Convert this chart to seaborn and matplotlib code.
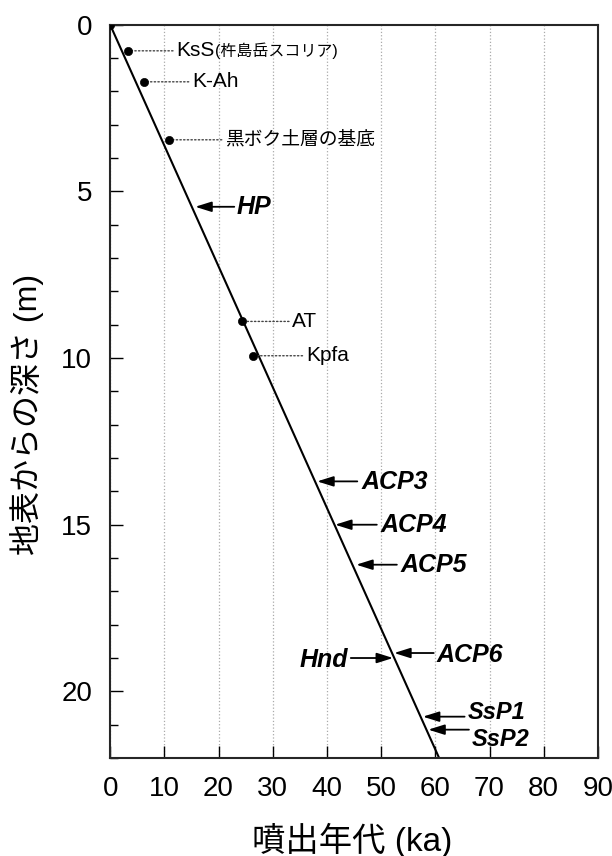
import matplotlib
matplotlib.use("Agg")
import matplotlib.pyplot as plt
from matplotlib.ticker import MultipleLocator
import pandas as pd
import seaborn as sns

# 年代-深度の直線
line_age = [0, 60.7]
line_depth = [0, 22]

# テフラ（点）
dot_names = ["KsS", "K-Ah", "黒ボク土層の基底", "AT", "Kpfa"]
dot_age = [3.3, 6.3, 10.9, 24.4, 26.4]
dot_depth = [0.78, 1.71, 3.45, 8.9, 9.93]
dot_text_x = [12.2, 15.1, 21.2, 33.6, 36.1]

# 矢印ラベル
arr_names = ["HP", "ACP3", "ACP4", "ACP5", "ACP6", "Hnd", "SsP1", "SsP2"]
arr_age = [15.7, 38.2, 41.5, 45.4, 52.4, 52.2, 57.7, 58.7]
arr_depth = [5.46, 13.7, 15.0, 16.2, 18.85, 19.0, 20.76, 21.15]
arr_tail_x = [22.9, 45.6, 49.2, 52.9, 59.7, 44.4, 65.4, 66.2]
arr_text_x = [23.4, 46.3, 49.8, 53.5, 60.3, 43.9, 66.0, 66.8]
arr_text_y = [5.46, 13.72, 15.0, 16.22, 18.9, 19.05, 20.64, 21.44]
arr_size = [18, 18, 18, 18, 18, 18, 17, 17]

sns.set_style("ticks")
plt.rcParams["font.family"] = ["Liberation Sans", "Noto Sans CJK JP", "DejaVu Sans"]
plt.rcParams["text.color"] = "black"
plt.rcParams["axes.labelcolor"] = "black"
plt.rcParams["xtick.color"] = "black"
plt.rcParams["ytick.color"] = "black"

fig = plt.figure(figsize=(6.12, 8.56), dpi=100)
ax = fig.add_axes([0.18, 0.1145, 0.797, 0.8565])

df_line = pd.DataFrame({"age": line_age, "depth": line_depth})
sns.lineplot(data=df_line, x="age", y="depth", color="black", lw=1.5, ax=ax)

df_dot = pd.DataFrame({"age": [0] + dot_age, "depth": [0] + dot_depth})
sns.scatterplot(data=df_dot, x="age", y="depth", color="black", s=35,
                edgecolor="black", zorder=5, ax=ax)

ax.set_xlim(0, 90)
ax.set_ylim(22, 0)
ax.xaxis.set_major_locator(MultipleLocator(10))
ax.yaxis.set_major_locator(MultipleLocator(5))
ax.yaxis.set_minor_locator(MultipleLocator(1))
ax.tick_params(axis="both", which="major", direction="in", length=9,
               width=1, labelsize=20)
ax.tick_params(axis="x", which="major", pad=13)
ax.tick_params(axis="y", which="major", pad=13)
ax.tick_params(axis="y", which="minor", direction="in", length=6, width=1)
ax.grid(axis="x", which="major", color="#aaaaaa", ls=":", lw=0.9)
for sp in ax.spines.values():
    sp.set_visible(True)
    sp.set_linewidth(1.5)

ax.set_xlabel("噴出年代 (ka)", fontsize=24)
ax.set_ylabel("地表からの深さ (m)", fontsize=23)
ax.xaxis.set_label_coords(0.496, -0.088)
ax.yaxis.set_label_coords(-0.135, 0.468)

# 点のラベル（点線の引出し線）
for i, name in enumerate(dot_names):
    fs = 13.5 if name == "黒ボク土層の基底" else 15
    t = ax.annotate(name, xy=(dot_age[i], dot_depth[i]),
                    xytext=(dot_text_x[i], dot_depth[i]),
                    fontsize=fs, ha="left", va="center",
                    arrowprops=dict(arrowstyle="-", ls=":", lw=1.0,
                                    color="#444444", shrinkA=0, shrinkB=2))
    if name == "KsS":
        ax.annotate("(杵島岳スコリア)", xy=(1, 0.5), xycoords=t,
                    fontsize=11.5, ha="left", va="center")

# 太字斜体の矢印ラベル
for i, name in enumerate(arr_names):
    ha = "right" if arr_text_x[i] < arr_age[i] else "left"
    ax.annotate("", xy=(arr_age[i], arr_depth[i]),
                xytext=(arr_tail_x[i], arr_depth[i]),
                arrowprops=dict(arrowstyle="-|>,head_length=0.7,head_width=0.22",
                                lw=1.3, color="black", shrinkA=0, shrinkB=0,
                                mutation_scale=14))
    ax.text(arr_text_x[i], arr_text_y[i], name, fontsize=arr_size[i],
            fontweight="bold", fontstyle="italic", ha=ha, va="center")

fig.savefig("out.png", dpi=100)
